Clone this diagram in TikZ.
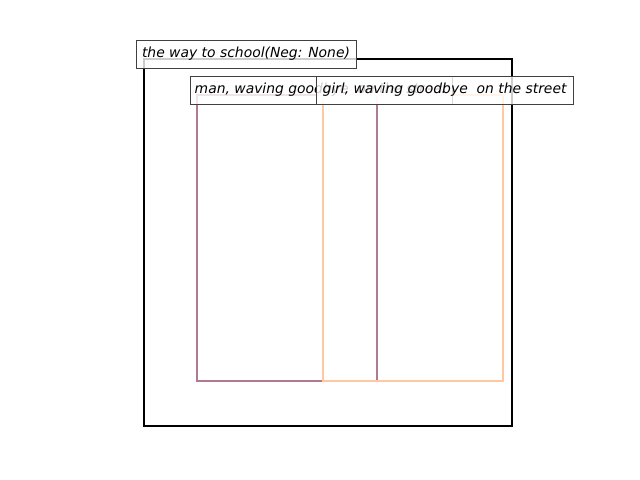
\documentclass[tikz,border=0pt]{standalone}
\usepackage{fontspec}
\setmainfont{DejaVu Sans}
\begin{document}
\begin{tikzpicture}[x=0.72pt,y=-0.72pt,
  lbl/.style={draw=black!75, line width=0.72pt, fill=white, fill opacity=0.8, text opacity=1,
    font=\fontsize{10}{12}\selectfont\itshape, inner sep=0pt, minimum height=20.16pt, anchor=center},
  outer/.style={draw=black, line width=1.2pt},
  purp/.style={draw=purpbox, line width=1.8pt},
  oran/.style={draw=oranbox, line width=1.8pt}]
\definecolor{purpbox}{RGB}{176,122,147}
\definecolor{oranbox}{RGB}{255,200,160}
\useasboundingbox (0,0) rectangle (640,480);
\draw[outer] (144,59) rectangle (512,426);
\draw[purp] (197,95) rectangle (377,381);
\draw[oran] (323,95) rectangle (503,381);
\node[lbl, minimum width=158.4pt] (l1) at (246,54) {\raisebox{-1pt}{the way to school(Neg: None)}};
\node[lbl, minimum width=188.64pt] (l2) at (321,90) {\raisebox{-1pt}{man, waving goodbye\ \ on the street}};
\node[lbl, minimum width=185.04pt] (l3) at (444.5,90) {\raisebox{-1pt}{girl, waving goodbye\ \ on the street}};
\end{tikzpicture}
\end{document}
